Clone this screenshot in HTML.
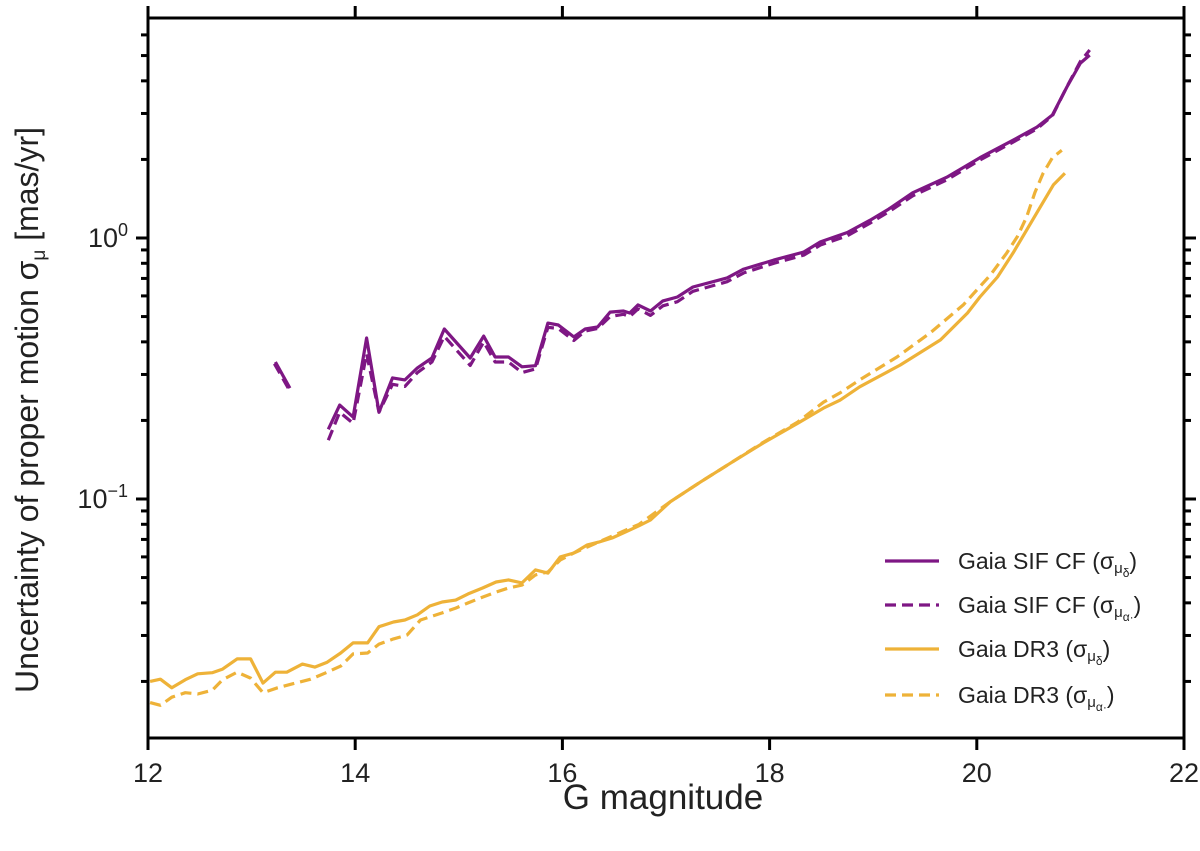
<!DOCTYPE html>
<html><head><meta charset="utf-8"><style>
html,body{margin:0;padding:0;background:#fff;}
svg{display:block;font-family:"Liberation Sans",sans-serif;}
</style></head><body>
<svg id="chart" width="1200" height="851" viewBox="0 0 1200 851"></svg>
<script>
const sifSolidX=[13.23,13.37];
const sifSolidY=[0.335,0.266];
const sifSolidX2=[13.74,13.85,13.98,14.11,14.23,14.36,14.48,14.60,14.74,14.86,15.11,15.24,15.35,15.48,15.61,15.74,15.86,15.96,16.11,16.22,16.34,16.46,16.59,16.65,16.73,16.85,16.97,17.11,17.26,17.59,17.75,18.04,18.33,18.49,18.75,18.97,19.15,19.38,19.71,20.03,20.35,20.58,20.73,20.87,21.00,21.09];
const sifSolidY2=[0.185,0.229,0.206,0.414,0.215,0.291,0.286,0.318,0.347,0.448,0.347,0.421,0.350,0.350,0.321,0.324,0.472,0.464,0.418,0.448,0.456,0.520,0.525,0.516,0.554,0.525,0.574,0.594,0.649,0.703,0.760,0.823,0.884,0.966,1.05,1.17,1.29,1.49,1.71,2.03,2.37,2.66,2.96,3.79,4.68,5.02];
const sifDashX=[13.22,13.38];
const sifDashY=[0.33,0.255];
const sifDashX2=[13.74,13.85,13.98,14.11,14.23,14.36,14.48,14.60,14.74,14.86,15.11,15.24,15.35,15.48,15.61,15.74,15.86,15.96,16.11,16.22,16.34,16.46,16.59,16.65,16.73,16.85,16.97,17.11,17.26,17.59,17.75,18.04,18.33,18.49,18.75,18.97,19.15,19.38,19.71,20.03,20.35,20.58,20.73,20.87,21.00,21.09];
const sifDashY2=[0.168,0.215,0.195,0.36,0.215,0.275,0.27,0.305,0.335,0.42,0.325,0.40,0.335,0.335,0.305,0.315,0.455,0.45,0.405,0.44,0.45,0.50,0.51,0.50,0.535,0.505,0.55,0.57,0.625,0.68,0.735,0.80,0.86,0.94,1.02,1.14,1.26,1.45,1.67,1.99,2.33,2.62,2.94,3.80,4.75,5.25];
const dr3SolidX=[12.02,12.12,12.23,12.36,12.48,12.62,12.72,12.86,12.99,13.11,13.23,13.34,13.49,13.61,13.73,13.86,13.98,14.12,14.23,14.37,14.48,14.60,14.72,14.84,14.97,15.09,15.23,15.36,15.48,15.61,15.74,15.86,15.98,16.11,16.24,16.35,16.48,16.61,16.74,16.85,17.04,17.33,17.62,17.94,18.27,18.52,18.68,18.87,19.26,19.65,19.91,20.03,20.20,20.35,20.48,20.61,20.74,20.85];
const dr3SolidY=[0.0200,0.0204,0.0189,0.0203,0.0214,0.0216,0.0223,0.0244,0.0244,0.0197,0.0217,0.0217,0.0233,0.0227,0.0237,0.0257,0.0281,0.0281,0.0324,0.0338,0.0344,0.0360,0.0389,0.0403,0.0410,0.0433,0.0456,0.0481,0.0490,0.0477,0.0535,0.0520,0.0600,0.0621,0.0667,0.0684,0.0709,0.0748,0.0790,0.0831,0.0975,0.116,0.137,0.164,0.195,0.223,0.239,0.269,0.326,0.407,0.516,0.594,0.709,0.877,1.07,1.31,1.60,1.77];
const dr3DashX=[12.02,12.12,12.23,12.36,12.48,12.62,12.72,12.86,12.99,13.11,13.25,13.40,13.57,13.73,13.86,13.98,14.12,14.23,14.37,14.50,14.63,14.72,14.84,14.97,15.09,15.23,15.36,15.48,15.61,15.74,15.86,15.98,16.11,16.24,16.74,17.04,17.33,17.62,17.94,18.27,18.52,18.68,18.87,19.23,19.55,19.87,20.13,20.29,20.39,20.48,20.56,20.64,20.73,20.82];
const dr3DashY=[0.0166,0.0162,0.0174,0.0181,0.0179,0.0185,0.0203,0.0217,0.0206,0.0181,0.0189,0.0196,0.0204,0.0217,0.0229,0.0255,0.0257,0.0278,0.0291,0.0301,0.0344,0.0353,0.0366,0.0382,0.0400,0.0421,0.0440,0.0456,0.0468,0.0512,0.0525,0.0584,0.0621,0.0655,0.080,0.0975,0.116,0.137,0.165,0.197,0.235,0.255,0.286,0.350,0.433,0.554,0.721,0.877,1.01,1.20,1.49,1.77,2.03,2.17];
const xTicks=[12,14,16,18,20,22];
const yMajor=[-1,0];

const L=148,R=1184,T=18,B=738;
const Y0=238,DEC=261;
function sx(m){return L+(m-12)*(R-L)/10;}
function sy(v){return Y0-Math.log10(v)*DEC;}
const NS='http://www.w3.org/2000/svg';
const svg=document.getElementById('chart');
function mk(tag,attrs,parent){const e=document.createElementNS(NS,tag);for(const k in attrs)e.setAttribute(k,attrs[k]);(parent||svg).appendChild(e);return e;}

const PURPLE='#7e1784',ORANGE='#eeb238';
function series(xs,ys,color,dash,name){
  const d=xs.map((x,i)=>(i?'L':'M')+sx(x).toFixed(1)+','+sy(ys[i]).toFixed(1)).join(' ');
  const p=mk('path',{d:d,fill:'none',stroke:color,'stroke-width':3.2,'stroke-linejoin':'round','stroke-dasharray':dash?'11,6':'none'});
  
  
}
series(dr3DashX,dr3DashY,ORANGE,true,'dr3-ra-line');
series(dr3SolidX,dr3SolidY,ORANGE,false,'dr3-dec-line');
series(sifDashX,sifDashY,PURPLE,true,'sif-ra-line-seg1');
series(sifDashX2,sifDashY2,PURPLE,true,'sif-ra-line');
series(sifSolidX,sifSolidY,PURPLE,false,'sif-dec-line-seg1');
series(sifSolidX2,sifSolidY2,PURPLE,false,'sif-dec-line');

const fr=mk('rect',{x:L,y:T,width:R-L,height:B-T,fill:'none',stroke:'#000','stroke-width':3});



xTicks.forEach(t=>{
  const x=sx(t);
  mk('line',{x1:x,y1:B,x2:x,y2:B+12,stroke:'#000','stroke-width':3});
  mk('line',{x1:x,y1:T,x2:x,y2:T-12,stroke:'#000','stroke-width':3});
  const tx=mk('text',{x:x,y:B+44,'text-anchor':'middle','font-size':27,fill:'#222'});
  tx.textContent=t;
  
  
});
for(let dec=-2;dec<=0;dec++){
  for(let k=1;k<=9;k++){
    const v=k*Math.pow(10,dec);
    const y=sy(v);
    if(y<T-0.5||y>B+0.5)continue;
    const len=k===1?12:7;
    mk('line',{x1:L,y1:y,x2:L-len,y2:y,stroke:'#000','stroke-width':3});
    mk('line',{x1:R,y1:y,x2:R+len,y2:y,stroke:'#000','stroke-width':3});
  }
}
yMajor.forEach(e=>{
  const y=sy(Math.pow(10,e));
  const tx=mk('text',{x:128,y:y+9,'text-anchor':'end','font-size':27,fill:'#222'});
  
  
  tx.innerHTML='10<tspan dy="-11" font-size="18">'+(e<0?'\u2212'+(-e):e)+'</tspan>';
});

const xt=mk('text',{x:663,y:809,'text-anchor':'middle','font-size':35,fill:'#222'});
xt.textContent='G magnitude';


const yt=mk('text',{x:0,y:0,'text-anchor':'middle','font-size':32,fill:'#222',transform:'translate(38,410) rotate(-90)'});
yt.innerHTML='Uncertainty of proper motion \u03c3<tspan dy="7" font-size="19">\u03bc</tspan><tspan dy="-7"> [mas/yr]</tspan>';



const legend=[
 {c:PURPLE,d:false,t:'Gaia SIF CF (σ',s:'μ',ss:'δ',y:561,n:'legend-sif-dec'},
 {c:PURPLE,d:true,t:'Gaia SIF CF (σ',s:'μ',ss:'α·',y:605,n:'legend-sif-ra'},
 {c:ORANGE,d:false,t:'Gaia DR3 (σ',s:'μ',ss:'δ',y:649,n:'legend-dr3-dec'},
 {c:ORANGE,d:true,t:'Gaia DR3 (σ',s:'μ',ss:'α·',y:695,n:'legend-dr3-ra'}
];
legend.forEach(l=>{
  const g=mk('g',{});
  
  
  mk('line',{x1:885,y1:l.y,x2:939,y2:l.y,stroke:l.c,'stroke-width':3.2,'stroke-dasharray':l.d?'11,6':'none'},g);
  const tx=mk('text',{x:958,y:l.y+8,'font-size':23,fill:'#222'},g);
  tx.innerHTML=l.t+'<tspan dy="4" font-size="15">'+l.s+'</tspan><tspan dy="4" font-size="12">'+l.ss+'</tspan><tspan dy="-8">)</tspan>';
});
</script>
</body></html>
